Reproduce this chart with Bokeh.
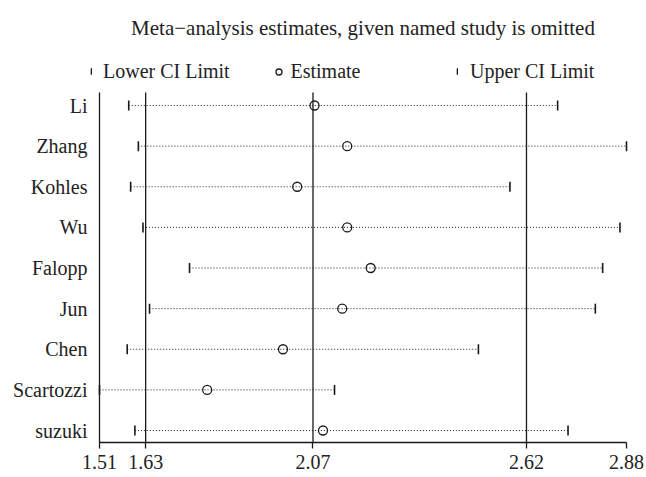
import math
from bokeh.plotting import figure
from bokeh.models import (ColumnDataSource, FixedTicker, Range1d, Label,
                          Legend, LegendItem)
from bokeh.embed import file_html
from bokeh.resources import INLINE

# ---- data ----
studies = ["Li", "Zhang", "Kohles", "Wu", "Falopp", "Jun", "Chen", "Scartozzi", "suzuki"]
lower = [1.586, 1.611, 1.591, 1.623, 1.744, 1.640, 1.582, 1.510, 1.602]
estimate = [2.069, 2.154, 2.024, 2.154, 2.215, 2.141, 1.987, 1.790, 2.091]
upper = [2.701, 2.880, 2.577, 2.863, 2.818, 2.799, 2.495, 2.121, 2.728]

summary_lower = 1.63
summary_est = 2.065
summary_upper = 2.62
x_min = 1.51
x_max = 2.88

tick_values = [x_min, summary_lower, summary_est, summary_upper, x_max]
tick_labels = ["1.51", "1.63", "2.07", "2.62", "2.88"]

title_text = "Meta\u2212analysis estimates, given named study is omitted"
legend_labels = ["Lower CI Limit", "Estimate", "Upper CI Limit"]

FONT = "Liberation Serif"
FS = "20px"
TXT = "#222222"
INK = "#1a1a1a"

n = len(studies)
ypos = [n - i for i in range(n)]
y_bottom, y_top = 0.705, n + 0.32

src = ColumnDataSource(dict(y=ypos, lower=lower, est=estimate, upper=upper))

# ---- layout geometry (pixels of the 646x477 picture) ----
W, H = 646, 477
PL, PR, PT, PB = 99, 626, 92, 442          # plotting region
kx = (PR - PL) / (x_max - x_min)
ky = (PB - PT) / (y_top - y_bottom)
xr = Range1d(x_min - PL / kx, x_max + (W - PR) / kx)
yr = Range1d(y_bottom - (H - PB) / ky, y_top + PT / ky)

p = figure(width=W, height=H, output_backend="svg", toolbar_location=None,
           x_range=xr, y_range=yr,
           min_border_left=0, min_border_right=0, min_border_top=0, min_border_bottom=0)
p.outline_line_color = None
p.xgrid.visible = False
p.ygrid.visible = False

# pooled estimate and its CI as vertical reference lines
p.segment(x0=[summary_lower, summary_est, summary_upper], y0=y_bottom,
          x1=[summary_lower, summary_est, summary_upper], y1=y_top,
          line_color=INK, line_width=1.3)

# dotted CI lines, CI limits and estimates
p.segment(x0="lower", y0="y", x1="upper", y1="y", source=src,
          line_color="#222222", line_width=1, line_dash="1 2")
r_low = p.rect(x="lower", y="y", width=1.6, height=10, width_units="screen",
               height_units="screen", source=src, fill_color=INK, line_color=None)
r_up = p.rect(x="upper", y="y", width=1.6, height=10, width_units="screen",
              height_units="screen", source=src, fill_color=INK, line_color=None)
r_est = p.scatter(x="est", y="y", source=src, marker="circle", size=9,
                  line_color=INK, line_width=1.3, fill_alpha=0)

# axes
xa = p.xaxis[0]
xa.fixed_location = y_bottom
xa.bounds = (x_min, x_max)
xa.ticker = FixedTicker(ticks=tick_values)
xa.major_label_overrides = {v: s for v, s in zip(tick_values, tick_labels)}
xa.minor_tick_line_color = None
xa.major_tick_in = 0
xa.major_tick_out = 6
xa.major_tick_line_color = INK
xa.major_tick_line_width = 1.3
xa.axis_line_color = INK
xa.axis_line_width = 1.3
xa.major_label_text_font = FONT
xa.major_label_text_font_size = FS
xa.major_label_text_color = TXT
xa.major_label_standoff = 6

ya = p.yaxis[0]
ya.fixed_location = x_min
ya.bounds = (y_bottom, y_top)
ya.ticker = FixedTicker(ticks=ypos)
ya.major_label_overrides = {y: s for y, s in zip(ypos, studies)}
ya.minor_tick_line_color = None
ya.major_tick_in = 0
ya.major_tick_out = 0
ya.axis_line_color = INK
ya.axis_line_width = 1.3
ya.major_label_text_font = FONT
ya.major_label_text_font_size = FS
ya.major_label_text_color = TXT
ya.major_label_standoff = 12

# title
p.add_layout(Label(x=362.5, y=H - 27, x_units="screen", y_units="screen",
                   text=title_text, text_align="center", text_baseline="alphabetic",
                   text_font=FONT, text_font_size="21px", text_color=TXT))

# legend: three entries placed like the reference
leg_specs = [
    (legend_labels[0], r_low, 90, 2, 8, 11),
    (legend_labels[1], r_est, 270.5, 15, 15, 5),
    (legend_labels[2], r_up, 456, 2, 8, 12),
]
for lab, rend, vx, gw, gh, stand in leg_specs:
    lg = Legend(items=[LegendItem(label=lab, renderers=[rend])], location=(vx, H - 83),
                orientation="horizontal", glyph_width=gw, glyph_height=gh,
                label_height=24, label_standoff=stand, padding=0, margin=0, spacing=0,
                border_line_alpha=0, background_fill_alpha=0,
                label_text_font=FONT, label_text_font_size=FS, label_text_color=TXT)
    p.add_layout(lg)

open("out.html", "w").write(file_html(p, INLINE))
